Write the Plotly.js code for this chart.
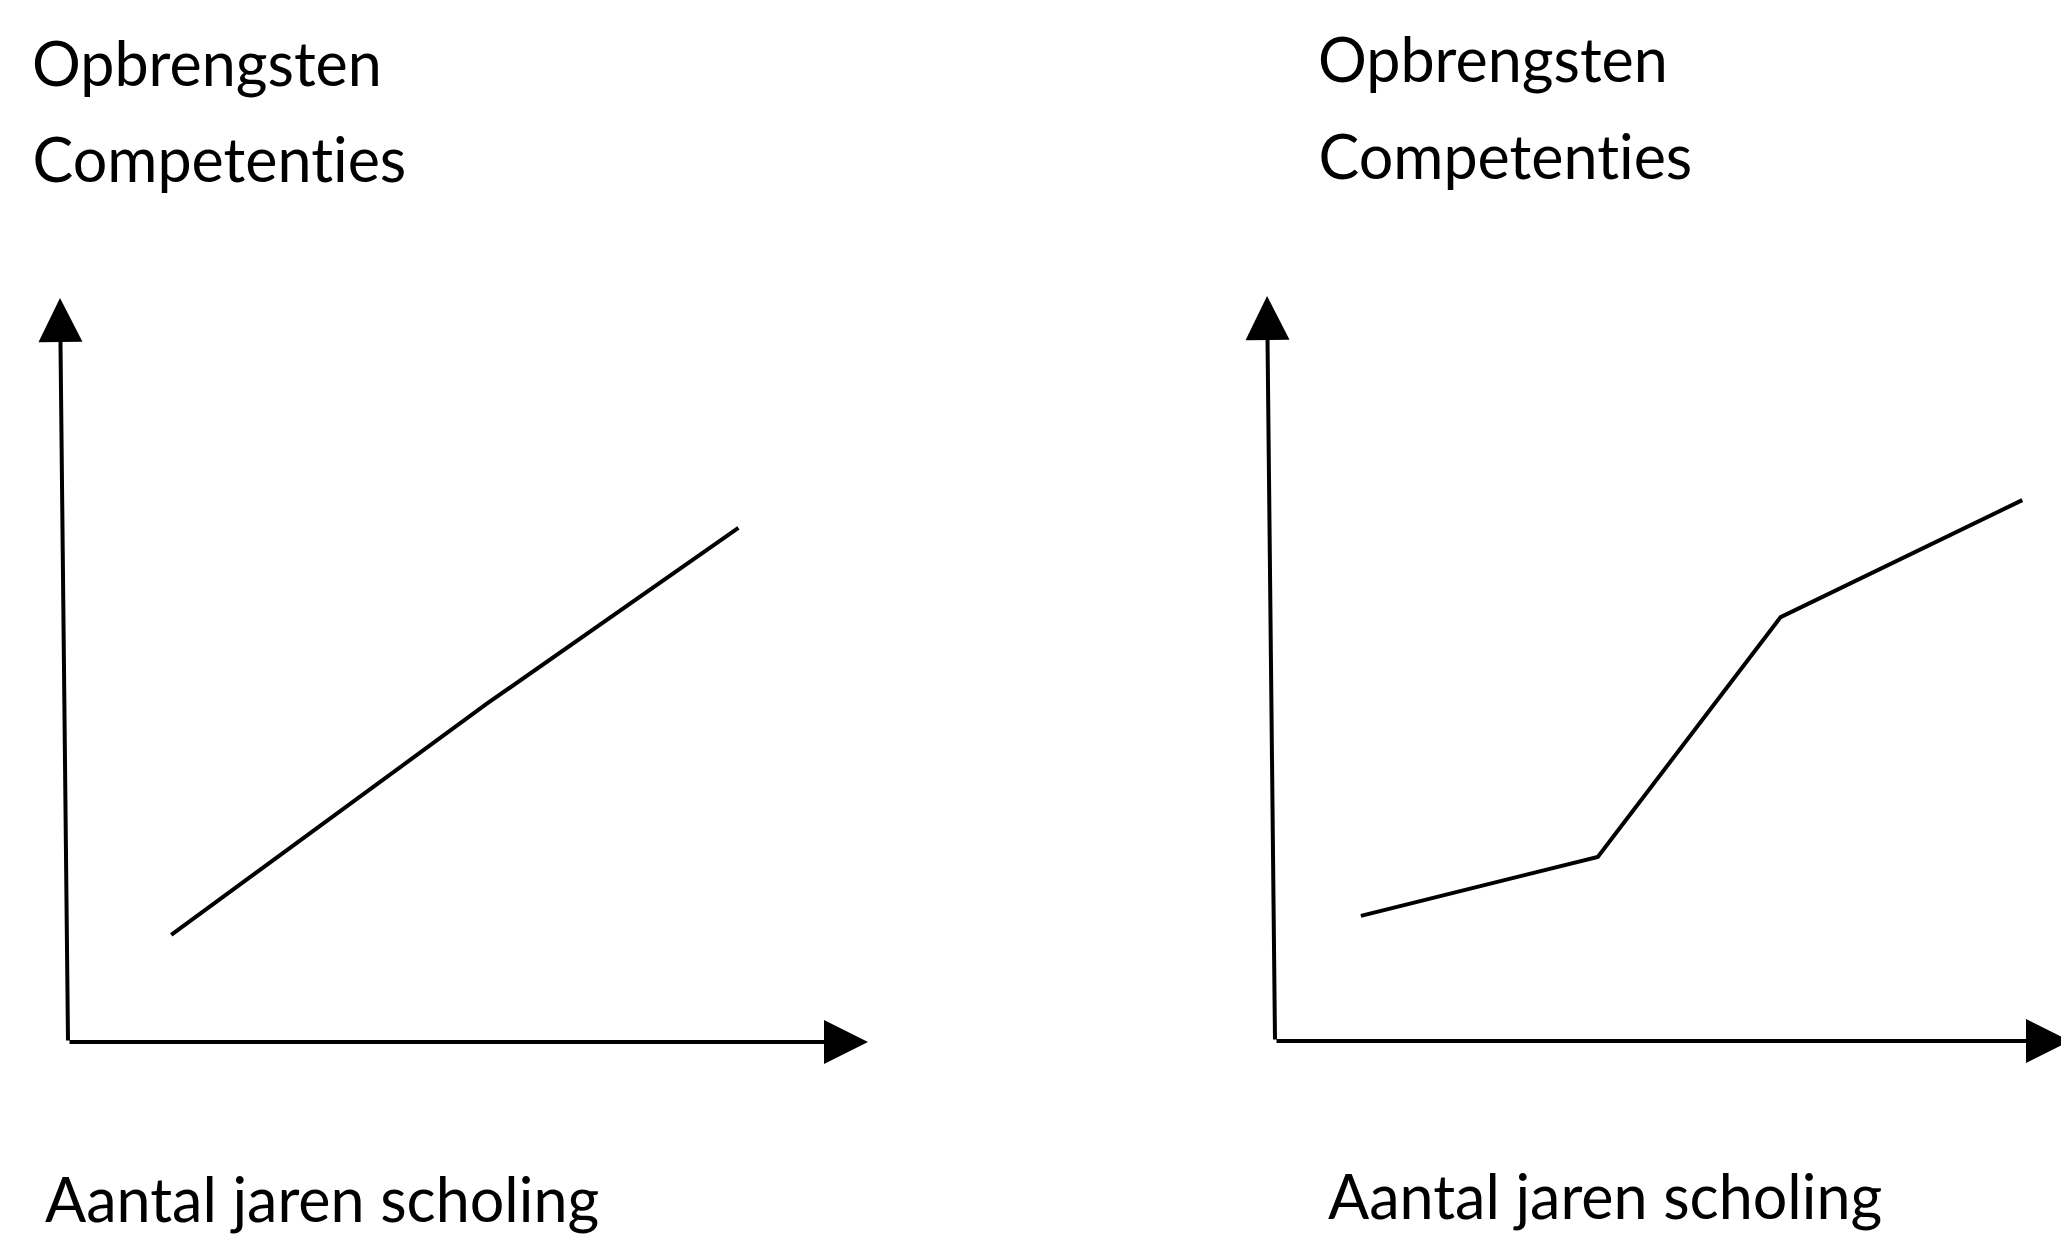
<!DOCTYPE html>
<html>
<head>
<meta charset="utf-8">
<script src="https://cdn.plot.ly/plotly-3.0.1.min.js"></script>
<style>
  html, body { margin: 0; padding: 0; background: #fff; }
  #chart { width: 2061px; height: 1234px; }
  /* no "ti" ligature in Competenties */
  #chart text { font-variant-ligatures: none !important; }
</style>
</head>
<body>
<div id="chart"></div>
<script>
// Linker figuur: lineair verband
var leftYears = [1.29, 5.24, 8.38];
var leftValues = [1.44, 4.55, 6.91];

// Rechter figuur: geknikt verband
var rightYears = [1.08, 4.06, 6.36, 9.40];
var rightValues = [1.68, 2.47, 5.69, 7.26];

var yLabels = ["Opbrengsten", "Competenties"];
var xLabel = "Aantal jaren scholing";

// axis arrows run from 0 to 10 in both panels
var axisEnd = [0, 10];

var W = 2061, H = 1234;
var font = "Lato, 'Open Sans', sans-serif";

var trace1 = {
  x: leftYears,
  y: leftValues,
  mode: "lines",
  type: "scatter",
  xaxis: "x",
  yaxis: "y",
  line: { color: "#000", width: 4 },
  hoverinfo: "skip"
};

var trace2 = {
  x: rightYears,
  y: rightValues,
  mode: "lines",
  type: "scatter",
  xaxis: "x2",
  yaxis: "y2",
  line: { color: "#000", width: 4 },
  hoverinfo: "skip"
};

var data = [trace1, trace2];

function bareAxis(range, domain, anchor) {
  return {
    range: range,
    domain: domain,
    anchor: anchor,
    showgrid: false,
    zeroline: false,
    showline: false,
    showticklabels: false,
    ticks: "",
    fixedrange: true
  };
}

// arrow from origin to the end of the axis
function axisArrow(xref, yref, x, y, ax, ay) {
  return {
    xref: xref, yref: yref, axref: xref, ayref: yref,
    x: x, y: y, ax: ax, ay: ay,
    text: "", showarrow: true,
    arrowhead: 2, arrowsize: 2.2, arrowwidth: 4, arrowcolor: "#000",
    standoff: 0, startstandoff: 0,
    font: { size: 1 }
  };
}

function label(text, px, py) {
  return {
    xref: "paper", yref: "paper",
    x: px / W, y: 1 - py / H,
    xanchor: "left", yanchor: "middle",
    text: text, showarrow: false,
    font: { family: font, size: 61, color: "#000" }
  };
}

var lean = -0.1; // the vertical axes lean a little to the left

var annotations = [
  axisArrow("x", "y", axisEnd[1], axisEnd[0], axisEnd[0], axisEnd[0]),
  axisArrow("x", "y", lean, axisEnd[1], axisEnd[0], axisEnd[0]),
  axisArrow("x2", "y2", axisEnd[1], axisEnd[0], axisEnd[0], axisEnd[0]),
  axisArrow("x2", "y2", lean, axisEnd[1], axisEnd[0], axisEnd[0]),
  label(yLabels[0], 30, 62),
  label(yLabels[1], 30, 158),
  label(xLabel, 43, 1198),
  label(yLabels[0], 1316, 59),
  label(yLabels[1], 1316, 156),
  label(xLabel, 1326, 1195)
];

var layout = {
  width: W,
  height: H,
  margin: { l: 0, r: 0, t: 0, b: 0 },
  paper_bgcolor: "#fff",
  plot_bgcolor: "#fff",
  showlegend: false,
  xaxis: bareAxis([-0.5, 10.3], [0.01359, 0.43280], "y"),
  yaxis: bareAxis([-0.3, 10.3], [0.13752, 0.77658], "x"),
  xaxis2: bareAxis([-0.5, 9.8], [0.59935, 0.99665], "y2"),
  yaxis2: bareAxis([-0.3, 10.3], [0.13829, 0.77824], "x2"),
  annotations: annotations
};

Plotly.newPlot("chart", data, layout, { displayModeBar: false, staticPlot: true });
</script>
</body>
</html>
